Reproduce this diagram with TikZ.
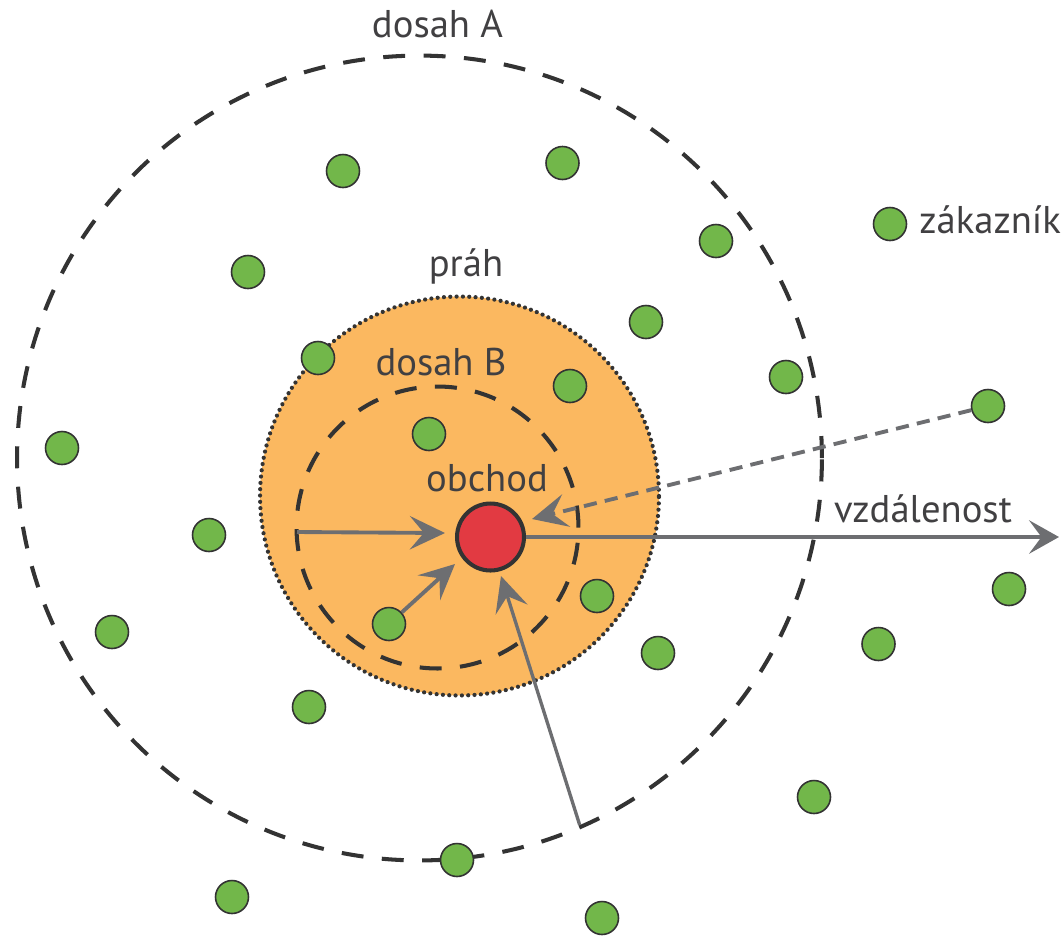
\documentclass[tikz,border=0pt]{standalone}
\usepackage{fontspec}
\setmainfont{PT Sans}
\usetikzlibrary{arrows.meta}
\definecolor{txt}{HTML}{414042}
\definecolor{dk}{HTML}{333333}
\definecolor{orng}{HTML}{FBB860}
\definecolor{rd}{HTML}{E23A42}
\definecolor{grn}{HTML}{72B74A}
\definecolor{arrc}{HTML}{6D6E71}
\begin{document}
\begin{tikzpicture}[x=0.02cm,y=-0.02cm,
  lbl/.style={text=txt, font=\fontsize{22}{26}\selectfont, inner sep=0pt},
  reach/.style={circle, draw=dk, line width=2.3pt, dash pattern=on 12.5pt off 10.5pt, inner sep=0pt},
  cust/.style={circle, fill=grn, draw=dk, line width=0.9pt, minimum size=0.66cm, inner sep=0pt},
  arr/.style={draw=arrc, line width=2.2pt, -{Stealth[length=20pt,width=19pt,inset=8pt]}},
  darr/.style={arr, dash pattern=on 7.5pt off 4.7pt},
]
\useasboundingbox (0,0) rectangle (1061,938);
% threshold disc
\node[circle, fill=orng, draw=dk, line width=2.4pt, line cap=round, dash pattern=on 0pt off 3.6pt,
      minimum size=7.98cm, inner sep=0pt] (prah) at (459.5,496) {};
% reaches
\node[reach, minimum size=16.1cm] (A) at (419.5,458) {};
\node[reach, minimum size=5.64cm] (B) at (437.5,527.5) {};
% labels
\node[lbl, anchor=base] (lA) at (437.5,37) {dosah A};
\node[lbl, anchor=base] (lP) at (466,276) {práh};
\node[lbl, anchor=base] (lB) at (441,375) {dosah B};
\node[lbl, anchor=base] (lO) at (487,491) {obchod};
\node[lbl, anchor=base] (lV) at (923,522) {vzdálenost};
% customers
\foreach \n/\p in {1/{(343,171)},2/{(562.5,163)},3/{(716,241)},4/{(890,224)},5/{(248,272)},
  6/{(646,322)},7/{(318,358)},8/{(570,386)},9/{(786,377)},10/{(988,406)},11/{(62,448)},
  12/{(429,434)},13/{(209,535)},14/{(597,596)},15/{(1009,589)},16/{(112,632)},17/{(389,624)},
  18/{(658,653)},19/{(878.5,644)},20/{(309,707)},21/{(814,797)},22/{(457,860)},23/{(232,897)},24/{(602,918)}}
  \node[cust] (c\n) at \p {};
\node[lbl, anchor=base west] (lZ) at (919,233) {zákazník};
% store
\node[circle, fill=rd, draw=dk, line width=2.3pt, minimum size=1.34cm, inner sep=0pt] (shop) at (490.5,537) {};
% coordinates
\coordinate (bL) at (297,532);
\coordinate (tL) at (445,533);
\coordinate (t17) at (455,564);
\coordinate (aS) at (579.7,825);
\coordinate (tS) at (501,576);
\coordinate (tD) at (532,519);
\coordinate (vE) at (1059,537);
% connectors
\draw[arr] (bL) -- (tL);
\draw[arr] (c17) -- (t17);
\draw[arr, line width=1.9pt] (aS) -- (tS);
\draw[darr] (c10) -- (tD);
\draw[draw=arrc, line width=2.4pt, -{Stealth[length=17pt,width=19pt,inset=7pt]}] (shop.east) -- (vE);
\end{tikzpicture}
\end{document}
